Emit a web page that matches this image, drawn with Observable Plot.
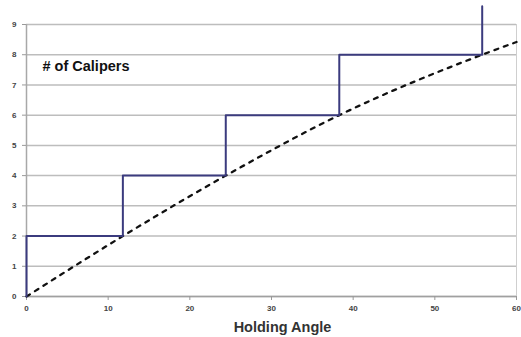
<!DOCTYPE html>
<html><head><meta charset="utf-8">
<script src="https://cdn.jsdelivr.net/npm/d3@7"></script>
<script src="https://cdn.jsdelivr.net/npm/@observablehq/plot@0.6"></script>
<style>body{margin:0;background:#fff;} svg{font-family:Arial,"Liberation Sans",sans-serif;}</style>
</head><body><div id="chart"></div>
<script>
const stepX = [0, 11.8, 24.4, 38.3, 55.8, 55.8];
const stepY = [0, 2, 4, 6, 8, 9.6];
const fitX = [0, 11.8, 24.4, 38.3, 55.8, 60];
const fitY = [0, 2, 4, 6, 8, 8.42];
const xTicks = [0, 10, 20, 30, 40, 50, 60];
const yTicks = [0, 1, 2, 3, 4, 5, 6, 7, 8, 9];
const xLabel = "Holding Angle";
const seriesLabel = "# of Calipers";

const stepData = stepX.map((x, i) => ({x, y: stepY[i]}));
const fitData = fitX.map((x, i) => ({x, y: fitY[i]}));

const chart = Plot.plot({
  width: 521, height: 337,
  marginLeft: 26, marginRight: 5, marginTop: 24, marginBottom: 41,
  x: {domain: [0, 60], ticks: xTicks, label: null},
  y: {domain: [0, 9], ticks: yTicks, label: null},
  style: {background: "#fff", overflow: "visible"},
  marks: [
    Plot.ruleY(yTicks, {stroke: "#bdbdbd", strokeWidth: 1.5}),
    Plot.ruleX([60], {stroke: "#cfcfcf", strokeWidth: 1}),
    Plot.ruleX([0], {stroke: "#a8a8a8", strokeWidth: 1.5}),
    Plot.ruleY([0], {stroke: "#a0a0a0", strokeWidth: 1.5}),
    Plot.axisX({ticks: xTicks, tickSize: 4, tickPadding: 5, stroke: "#999", fill: "#444", fontSize: 8, fontWeight: "bold", label: null}),
    Plot.axisY({ticks: yTicks, tickSize: 4, tickPadding: 6, stroke: "#999", fill: "#444", fontSize: 8, fontWeight: "bold", label: null}),
    Plot.line(fitData, {x: "x", y: "y", curve: "monotone-x", stroke: "#111", strokeWidth: 2.3, strokeDasharray: "4,6", clip: false}),
    Plot.line(stepData, {x: "x", y: "y", curve: "step-before", stroke: "#3b3b7e", strokeWidth: 2, clip: false}),
    Plot.text([seriesLabel], {frameAnchor: "top-left", dx: 16, dy: 42, fontSize: 14.5, fontWeight: "bold", fill: "#111", textAnchor: "start", lineAnchor: "middle"}),
    Plot.text([xLabel], {frameAnchor: "bottom", dx: 11, dy: 31, fontSize: 14.5, fontWeight: "bold", fill: "#333", lineAnchor: "middle"})
  ]
});
document.getElementById("chart").append(chart);
</script></body></html>
